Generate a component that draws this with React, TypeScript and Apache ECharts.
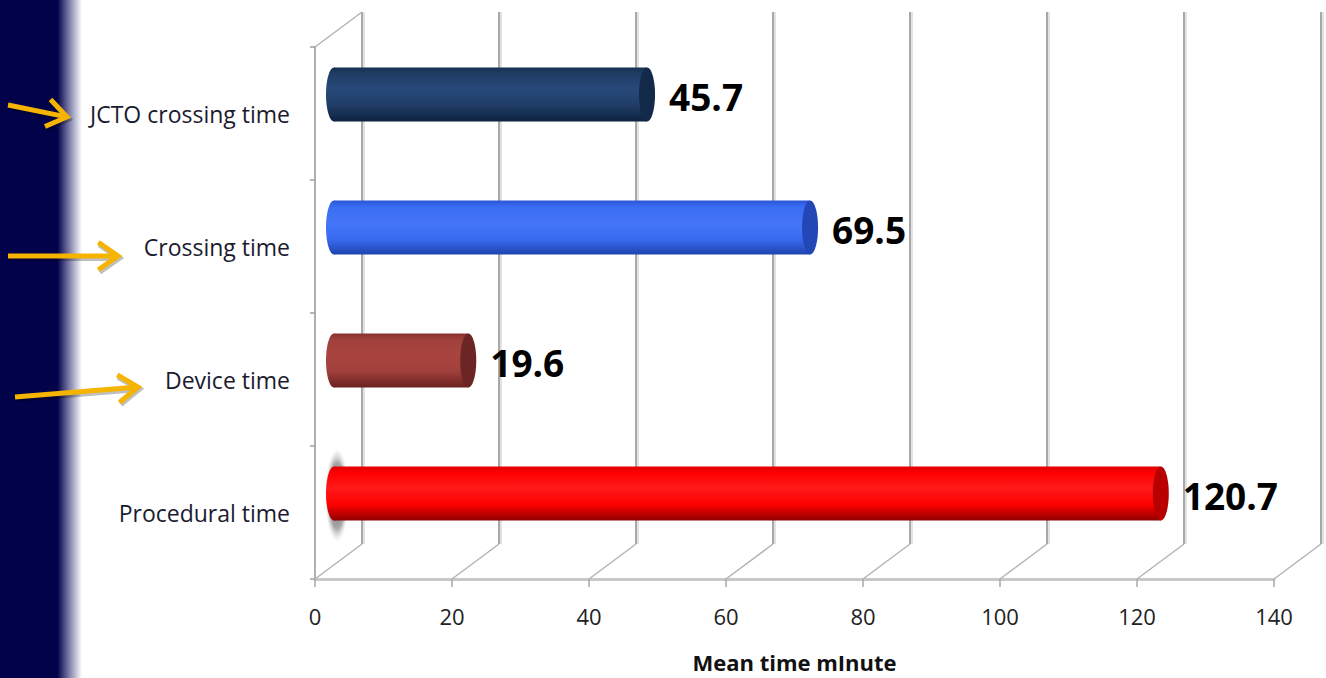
import React, { useEffect, useRef } from "react";
import * as echarts from "echarts";

const categories = ["JCTO crossing time", "Crossing time", "Device time", "Procedural time"];
const values = [45.7, 69.5, 19.6, 120.7];
const xTicks = [0, 20, 40, 60, 80, 100, 120, 140];
const axisTitle = "Mean time mInute";

// cylinder colour sets: [topEdge, highlight, mid, bottom, face]
const barPalettes = [
  ["#16304f", "#27497a", "#1f3d66", "#0e2240", "#132a4a"],
  ["#2a56d8", "#4576f7", "#3a6cf2", "#1f44b0", "#2447b8"],
  ["#8a3030", "#a9443f", "#a0403c", "#6a2020", "#6b2525"],
  ["#e00000", "#ff1a1a", "#ff0000", "#8f0000", "#b80000"],
];

const FONT = "'Open Sans', Lato, sans-serif";
const BACK_DX = 47;
const BACK_DY = -35;
const BAR_DX = 19;
const BAR_DY = -19;
const BAR_H = 54;
const CAP_RX = 8;

function arrowShapes(tail: number[], tip: number[]) {
  const dx = tip[0] - tail[0];
  const dy = tip[1] - tail[1];
  const len = Math.sqrt(dx * dx + dy * dy);
  const ux = dx / len;
  const uy = dy / len;
  const a = (35 * Math.PI) / 180;
  const L = 24;
  const arm = (s: number, ox: number, oy: number) => {
    const c = Math.cos(s * a);
    const sn = Math.sin(s * a);
    const rx = ux * c - uy * sn;
    const ry = ux * sn + uy * c;
    return [tip[0] - rx * L + ox, tip[1] - ry * L + oy];
  };
  const make = (ox: number, oy: number, stroke: string, w: number) => {
    const style = { stroke, lineWidth: w, fill: null, lineJoin: "miter", lineCap: "butt" };
    return [
      {
        type: "line",
        shape: { x1: tail[0] + ox, y1: tail[1] + oy, x2: tip[0] - ux * 3 + ox, y2: tip[1] - uy * 3 + oy },
        style,
      },
      {
        type: "polyline",
        shape: { points: [arm(1, ox, oy), [tip[0] + ox, tip[1] + oy], arm(-1, ox, oy)] },
        style,
      },
    ];
  };
  return [...make(1, 2, "rgba(0,0,0,0.25)", 6), ...make(0, 0, "#f5b400", 5)];
}

export default function App() {
  const ref = useRef<HTMLDivElement>(null);

  useEffect(() => {
    if (!ref.current) return;
    const chart = echarts.init(ref.current, undefined, { renderer: "svg" });

    const arrows = [
      arrowShapes([8, 105], [67, 117]),
      arrowShapes([8, 256], [118, 256]),
      arrowShapes([15, 397], [138, 387]),
    ].flat();

    const option: any = {
      animation: false,
      backgroundColor: "#ffffff",
      grid: { left: 315, right: 52, top: 47, bottom: 96, containLabel: false },
      xAxis: {
        type: "value",
        min: 0,
        max: 140,
        interval: 20,
        splitLine: { show: false },
        axisLine: { show: true, lineStyle: { color: "#c8c8c8", width: 3 } },
        axisTick: { show: true, length: 8, lineStyle: { color: "#a8a8a8", width: 1.5 } },
        axisLabel: {
          margin: 26,
          fontSize: 22,
          color: "#222",
          fontFamily: FONT,
          formatter: (v: number) => (xTicks.includes(v) ? String(v) : ""),
        },
        name: axisTitle,
        nameLocation: "middle",
        nameGap: 72,
        nameTextStyle: {
          fontSize: 22,
          fontWeight: "bold",
          color: "#111",
          fontFamily: FONT,
        },
      },
      yAxis: {
        type: "category",
        inverse: true,
        data: categories,
        axisLine: { show: true, lineStyle: { color: "#b0b0b0", width: 2 } },
        axisTick: { show: true, length: 5, lineStyle: { color: "#a0a0a0", width: 1.5 } },
        axisLabel: {
          margin: 25,
          fontSize: 23,
          color: "#1b1b2f",
          fontFamily: FONT,
          padding: [12, 0, 0, 0],
        },
        splitLine: { show: false },
      },
      graphic: [
        {
          type: "rect",
          z: 100,
          shape: { x: 0, y: 0, width: 82, height: 678 },
          style: {
            fill: new echarts.graphic.LinearGradient(0, 0, 1, 0, [
              { offset: 0, color: "#02024a" },
              { offset: 0.7, color: "#02024a" },
              { offset: 0.84, color: "#7a7aa6" },
              { offset: 1, color: "#ffffff" },
            ]),
          },
        },
        ...arrows.map((a: any) => ({ ...a, z: 101 })),
      ],
      series: [
        {
          type: "custom",
          z: 1,
          silent: true,
          data: xTicks.map((v) => [v]),
          encode: { x: 0 },
          renderItem: (params: any, api: any) => {
            const v = api.value(0);
            const cs = params.coordSys;
            const fx = api.coord([v, 0])[0];
            const bottom = cs.y + cs.height;
            const top = cs.y;
            const bx = fx + BACK_DX;
            const children: any[] = [
              {
                type: "line",
                shape: { x1: bx + 2, y1: top + BACK_DY, x2: bx + 2, y2: bottom + BACK_DY },
                style: { stroke: "#e2e2e2", lineWidth: 2 },
              },
              {
                type: "line",
                shape: { x1: bx, y1: top + BACK_DY, x2: bx, y2: bottom + BACK_DY },
                style: { stroke: "#a8a8a8", lineWidth: 2 },
              },
              {
                type: "line",
                shape: { x1: fx, y1: bottom, x2: bx, y2: bottom + BACK_DY },
                style: { stroke: "#b4b4b4", lineWidth: 1.5 },
              },
            ];
            if (v === xTicks[0]) {
              children.push({
                type: "line",
                shape: { x1: fx, y1: top, x2: bx, y2: top + BACK_DY },
                style: { stroke: "#b4b4b4", lineWidth: 1.5 },
              });
            }
            return { type: "group", children };
          },
        },
        {
          type: "custom",
          z: 5,
          data: values.map((v, i) => [v, i]),
          encode: { x: 0, y: 1 },
          renderItem: (params: any, api: any) => {
            const v = api.value(0);
            const ci = api.value(1);
            const p0 = api.coord([0, ci]);
            const p1 = api.coord([v, ci]);
            const cx0 = p0[0] + BAR_DX;
            const cx1 = p1[0] + BAR_DX;
            const cy = p0[1] + BAR_DY;
            const pal = barPalettes[params.dataIndex % barPalettes.length];
            const grad = () =>
              new echarts.graphic.LinearGradient(0, 0, 0, 1, [
                { offset: 0, color: pal[0] },
                { offset: 0.12, color: pal[2] },
                { offset: 0.4, color: pal[1] },
                { offset: 0.7, color: pal[2] },
                { offset: 1, color: pal[3] },
              ]);
            const children: any[] = [];
            if (params.dataIndex === values.length - 1) {
              children.push({
                type: "ellipse",
                shape: { cx: cx0 + 3, cy: cy + 2, rx: 12, ry: 47 },
                style: {
                  fill: new echarts.graphic.RadialGradient(0.5, 0.5, 0.5, [
                    { offset: 0, color: "rgba(70,70,70,0.95)" },
                    { offset: 0.7, color: "rgba(110,110,110,0.6)" },
                    { offset: 1, color: "rgba(200,200,200,0)" },
                  ]),
                },
              });
            }
            children.push(
              {
                type: "ellipse",
                shape: { cx: cx0, cy, rx: CAP_RX, ry: BAR_H / 2 },
                style: { fill: grad() },
              },
              {
                type: "rect",
                shape: { x: cx0, y: cy - BAR_H / 2, width: cx1 - cx0, height: BAR_H },
                style: { fill: grad() },
              },
              {
                type: "ellipse",
                shape: { cx: cx1, cy, rx: CAP_RX, ry: BAR_H / 2 },
                style: { fill: pal[4] },
              },
              {
                type: "text",
                style: {
                  text: v.toFixed(1),
                  x: cx1 + CAP_RX + 14,
                  y: cy + 2,
                  verticalAlign: "middle",
                  align: "left",
                  fontSize: 37,
                  fontWeight: "bold",
                  fontFamily: FONT,
                  fill: "#000",
                },
              }
            );
            return { type: "group", children };
          },
        },
      ],
    };

    chart.setOption(option);
    return () => chart.dispose();
  }, []);

  return (
    <div
      ref={ref}
      style={{ position: "fixed", left: 0, top: 0, width: 1326, height: 678, background: "#fff" }}
    />
  );
}
